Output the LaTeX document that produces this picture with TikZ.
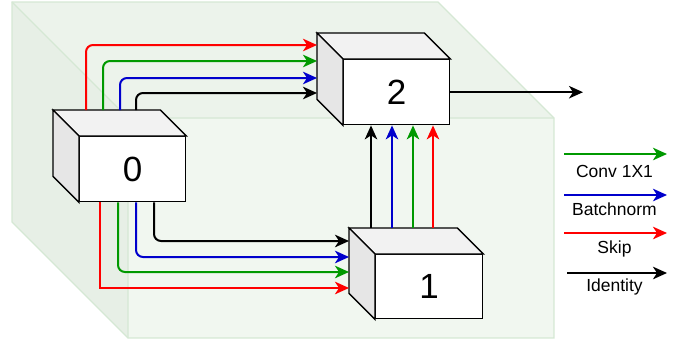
\documentclass[tikz,border=0pt]{standalone}
\usepackage{fontspec}
\setmainfont{Liberation Sans}
\usetikzlibrary{arrows.meta,calc}
\definecolor{bgstroke}{HTML}{D5E8D4}
\definecolor{bgfront}{RGB}{241,247,240}
\definecolor{bgtop}{RGB}{236,243,235}
\definecolor{bgleft}{RGB}{231,239,230}
\definecolor{cgreen}{HTML}{009900}
\definecolor{cblue}{HTML}{0000CC}
\definecolor{cred}{HTML}{FF0000}
\definecolor{topgrey}{RGB}{242,242,242}
\definecolor{leftgrey}{RGB}{230,230,230}
\newcommand\mycubesides[1]{%
  \draw[sideface, fill=topgrey] (#1.north west) -- ++(-26,-26) -- ($(#1.north east)+(-26,-26)$) -- (#1.north east) -- cycle;
  \draw[sideface, fill=leftgrey] (#1.north west) -- ++(-26,-26) -- ($(#1.south west)+(-26,-26)$) -- (#1.south west) -- cycle;
}
\begin{document}
\begin{tikzpicture}[x=1pt,y=-1pt,
  frontface/.style={draw=black, line width=1.4pt, fill=white, inner sep=0pt, anchor=north west,
    font=\fontsize{35}{40}\selectfont},
  sideface/.style={draw=black, line width=1.4pt, line join=miter},
  conn/.style={line width=2pt, -{Stealth[length=14pt,width=12.5pt,inset=4pt]}, rounded corners=7pt},
  leglabel/.style={anchor=base, inner sep=0pt, font=\fontsize{17.5}{21}\selectfont}]
\useasboundingbox (0,0) rectangle (683,343);
% background cube
\fill[bgfront] (128,118) rectangle (554,338);
\fill[bgtop] (12,2) -- (438,2) -- (554,118) -- (128,118) -- cycle;
\fill[bgleft] (12,2) -- (128,118) -- (128,338) -- (12,222) -- cycle;
\draw[bgstroke, line width=1.2pt, line join=miter] (12,2) -- (438,2) -- (554,118) -- (554,338) -- (128,338) -- (12,222) -- cycle;
\draw[bgstroke, line width=1.2pt] (12,2) -- (128,118) -- (554,118) (128,118) -- (128,338);
% boxes
\node[frontface, minimum width=106pt, minimum height=65pt] (b0) at (79,136) {0};
\mycubesides{b0}
\node[frontface, minimum width=106pt, minimum height=65pt] (b2) at (343,59) {2};
\mycubesides{b2}
\node[frontface, minimum width=107pt, minimum height=64pt] (b1) at (375,254) {1};
\mycubesides{b1}
% 0 -> 2
\draw[conn, cred]   ($(b0.north west)+(7,-26)$)  |- ($(b2.north west)+(-26,-14)$);
\draw[conn, cgreen] ($(b0.north west)+(24,-26)$) |- ($(b2.north west)+(-26,2)$);
\draw[conn, cblue]  ($(b0.north west)+(41,-26)$) |- ($(b2.north west)+(-26,19)$);
\draw[conn, black]  ($(b0.north west)+(57,-26)$) |- ($(b2.north west)+(-26,34)$);
% 0 -> 1
\draw[conn, cred, sharp corners] ($(b0.south west)+(21,0)$) |- ($(b1.north west)+(-26,34)$);
\draw[conn, cgreen] ($(b0.south west)+(39,0)$) |- ($(b1.north west)+(-26,18)$);
\draw[conn, cblue]  ($(b0.south west)+(57,0)$) |- ($(b1.north west)+(-26,3)$);
\draw[conn, black]  ($(b0.south west)+(75,0)$) |- ($(b1.north west)+(-26,-13)$);
% 1 -> 2
\coordinate (u1) at ($(b1.north west)+(-4,-26)$);
\coordinate (u2) at ($(b1.north west)+(17,-26)$);
\coordinate (u3) at ($(b1.north west)+(38,-26)$);
\coordinate (u4) at ($(b1.north west)+(58,-26)$);
\draw[conn, black]  (u1) -- (u1 |- b2.south);
\draw[conn, cblue]  (u2) -- (u2 |- b2.south);
\draw[conn, cgreen] (u3) -- (u3 |- b2.south);
\draw[conn, cred]   (u4) -- (u4 |- b2.south);
% output
\coordinate (out) at (583,91);
\draw[conn, black] (b2.east) -- (b2.east -| out);
% legend
\coordinate (lgs) at (564,154); \coordinate (lge) at (667,154);
\coordinate (lbs) at (564,195); \coordinate (lbe) at (667,195);
\coordinate (lrs) at (564,233); \coordinate (lre) at (667,233);
\coordinate (lks) at (567,273); \coordinate (lke) at (667,273);
\draw[conn, cgreen] (lgs) -- (lge);
\draw[conn, cblue]  (lbs) -- (lbe);
\draw[conn, cred]   (lrs) -- (lre);
\draw[conn, black]  (lks) -- (lke);
\node[leglabel] (tconv) at (614.5,177) {Conv 1X1};
\node[leglabel] (tbn) at (614.5,215) {Batchnorm};
\node[leglabel] (tskip) at (614.5,253) {Skip};
\node[leglabel] (tid) at (614.5,291.5) {Identity};
\end{tikzpicture}
\end{document}
